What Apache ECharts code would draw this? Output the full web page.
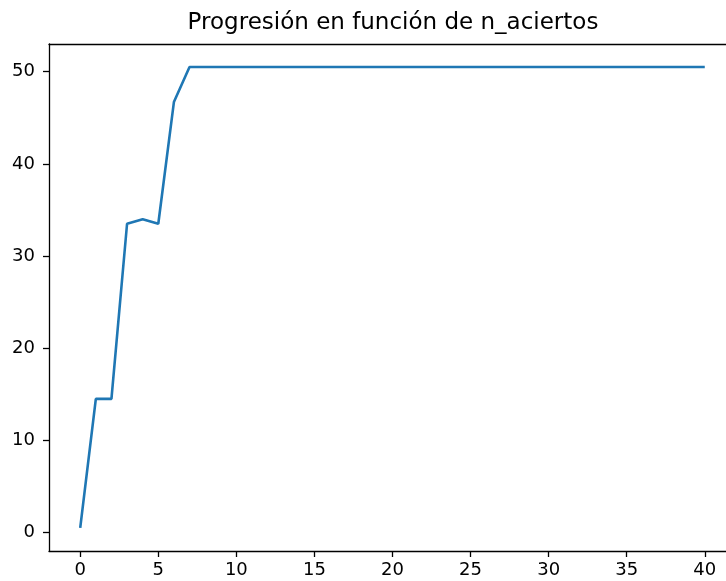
<!DOCTYPE html>
<html>
<head>
<meta charset="utf-8">
<script src="https://cdn.jsdelivr.net/npm/echarts@6/dist/echarts.min.js"></script>
<style>
html,body{margin:0;padding:0;background:#fff;overflow:hidden;}
#chart{width:745px;height:581px;}
</style>
</head>
<body>
<div id="chart"></div>
<script>
const titleText = 'Progresión en función de n_aciertos';
const xValues = [0,1,2,3,4,5,6,7,8,9,10,11,12,13,14,15,16,17,18,19,20,21,22,23,24,25,26,27,28,29,30,31,32,33,34,35,36,37,38,39,40];
const yValues = [0.5,14.5,14.5,33.5,34,33.5,46.7,50.5,50.5,50.5,50.5,50.5,50.5,50.5,50.5,50.5,50.5,50.5,50.5,50.5,50.5,50.5,50.5,50.5,50.5,50.5,50.5,50.5,50.5,50.5,50.5,50.5,50.5,50.5,50.5,50.5,50.5,50.5,50.5,50.5,50.5];
const xTicks = [0,5,10,15,20,25,30,35,40];
const yTicks = [0,10,20,30,40,50];

const chart = echarts.init(document.getElementById('chart'), null, {renderer:'canvas'});
const font = 'DejaVu Sans';
chart.setOption({
  animation:false,
  backgroundColor:'#ffffff',
  title:{
    text:titleText,
    left:388, top:7, textAlign:'center',
    textStyle:{fontFamily:font, fontSize:23, fontWeight:'normal', color:'#000'}
  },
  grid:{left:49, top:44, width:687, height:507, show:false},
  xAxis:[{
    type:'value', min:-2, max:42, position:'bottom',
    axisLine:{show:true, onZero:false, lineStyle:{color:'#000', width:1.3}},
    axisTick:{show:true, customValues:xTicks, length:6, lineStyle:{color:'#000', width:1.3}},
    axisLabel:{customValues:xTicks, margin:10, fontFamily:font, fontSize:18, color:'#000'},
    splitLine:{show:false}
  },{
    type:'value', min:-2, max:42, position:'top',
    axisLine:{show:true, onZero:false, lineStyle:{color:'#000', width:1.3}},
    axisTick:{show:false}, axisLabel:{show:false}, splitLine:{show:false}
  }],
  yAxis:{
    type:'value', min:-2, max:53,
    axisLine:{show:true, onZero:false, lineStyle:{color:'#000', width:1.3}},
    axisTick:{show:true, customValues:yTicks, length:6, lineStyle:{color:'#000', width:1.3}},
    axisLabel:{customValues:yTicks, margin:14, fontFamily:font, fontSize:18, color:'#000'},
    splitLine:{show:false}
  },
  series:[{
    type:'line',
    xAxisIndex:0,
    data:xValues.map((x,i)=>[x,yValues[i]]),
    showSymbol:false,
    symbol:'none',
    lineStyle:{color:'#1f77b4', width:2.6},
    itemStyle:{color:'#1f77b4'}
  }]
});
</script>
</body>
</html>
